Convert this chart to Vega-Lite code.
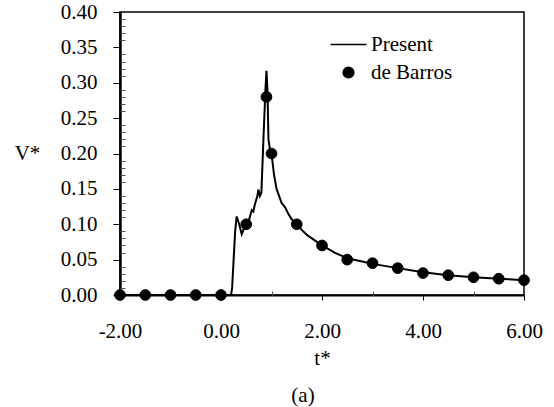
{
  "$schema": "https://vega.github.io/schema/vega-lite/v6.json",
  "width": 404,
  "height": 283,
  "autosize": {"type": "none"},
  "padding": {"left": 120, "top": 12, "right": 30, "bottom": 112},
  "background": "white",
  "config": {
    "font": "Liberation Serif",
    "style": {"guide-label": {"font": "Liberation Serif, serif", "fontSize": 21}, "guide-title": {"font": "Liberation Serif, serif", "fontSize": 21, "fontWeight": "normal"}},
    "view": {"stroke": "black", "strokeWidth": 1.5},
    "axis": {"grid": false, "labelFont": "Liberation Serif, serif", "titleFont": "Liberation Serif, serif", "labelColor": "black", "titleColor": "black", "domainColor": "black", "tickColor": "black", "titleFontWeight": "normal", "labelFlush": false, "labelOverlap": false},
    "legend": {"labelFont": "Liberation Serif", "labelFontSize": 21, "labelColor": "black"}
  },
  "title": {"text": "(a)", "orient": "bottom", "font": "Liberation Serif", "fontSize": 21, "fontWeight": "normal", "color": "black", "offset": 17, "dx": -19},
  "datasets": {
    "present": [
      {"t": -2.0, "v": 0}, {"t": 0.0, "v": 0}, {"t": 0.2, "v": 0}, {"t": 0.22, "v": 0.01},
      {"t": 0.25, "v": 0.05}, {"t": 0.28, "v": 0.09}, {"t": 0.31, "v": 0.111}, {"t": 0.36, "v": 0.1},
      {"t": 0.41, "v": 0.086}, {"t": 0.46, "v": 0.095}, {"t": 0.5, "v": 0.1}, {"t": 0.55, "v": 0.105},
      {"t": 0.61, "v": 0.12}, {"t": 0.64, "v": 0.118}, {"t": 0.67, "v": 0.128}, {"t": 0.72, "v": 0.14},
      {"t": 0.74, "v": 0.149}, {"t": 0.77, "v": 0.14}, {"t": 0.8, "v": 0.145}, {"t": 0.84, "v": 0.22},
      {"t": 0.88, "v": 0.29}, {"t": 0.9, "v": 0.317}, {"t": 0.92, "v": 0.29}, {"t": 0.94, "v": 0.22},
      {"t": 0.97, "v": 0.205}, {"t": 1.0, "v": 0.2}, {"t": 1.05, "v": 0.17}, {"t": 1.1, "v": 0.15},
      {"t": 1.15, "v": 0.14}, {"t": 1.2, "v": 0.13}, {"t": 1.27, "v": 0.124}, {"t": 1.33, "v": 0.115},
      {"t": 1.4, "v": 0.107}, {"t": 1.5, "v": 0.1}, {"t": 1.6, "v": 0.092}, {"t": 1.7, "v": 0.085},
      {"t": 1.8, "v": 0.08}, {"t": 1.9, "v": 0.075}, {"t": 2.0, "v": 0.07}, {"t": 2.25, "v": 0.06},
      {"t": 2.5, "v": 0.052}, {"t": 2.75, "v": 0.048}, {"t": 3.0, "v": 0.044}, {"t": 3.5, "v": 0.038},
      {"t": 4.0, "v": 0.032}, {"t": 4.5, "v": 0.028}, {"t": 5.0, "v": 0.025}, {"t": 5.5, "v": 0.023},
      {"t": 6.0, "v": 0.021}
    ],
    "barros": [
      {"t": -2.0, "v": 0, "series": "de Barros"}, {"t": -1.5, "v": 0, "series": "de Barros"},
      {"t": -1.0, "v": 0, "series": "de Barros"}, {"t": -0.5, "v": 0, "series": "de Barros"},
      {"t": 0.0, "v": 0, "series": "de Barros"}, {"t": 0.5, "v": 0.1, "series": "de Barros"},
      {"t": 0.9, "v": 0.28, "series": "de Barros"}, {"t": 1.0, "v": 0.2, "series": "de Barros"},
      {"t": 1.5, "v": 0.1, "series": "de Barros"}, {"t": 2.0, "v": 0.07, "series": "de Barros"},
      {"t": 2.5, "v": 0.05, "series": "de Barros"}, {"t": 3.0, "v": 0.045, "series": "de Barros"},
      {"t": 3.5, "v": 0.038, "series": "de Barros"}, {"t": 4.0, "v": 0.031, "series": "de Barros"},
      {"t": 4.5, "v": 0.028, "series": "de Barros"}, {"t": 5.0, "v": 0.025, "series": "de Barros"},
      {"t": 5.5, "v": 0.023, "series": "de Barros"}, {"t": 6.0, "v": 0.021, "series": "de Barros"}
    ]
  },
  "resolve": {"axis": {"x": "independent", "y": "independent"}},
  "layer": [
    {
      "data": {"name": "present"},
      "mark": {"type": "line", "color": "black", "strokeWidth": 2, "clip": true},
      "encoding": {
        "x": {"field": "t", "type": "quantitative", "scale": {"domain": [-2, 6], "nice": false},
          "axis": {"values": [-2, 0, 2, 4, 6], "labelExpr": "replace(format(datum.value, '.2f'), '\u2212', '-')", "title": "t*", "labelFont": "Liberation Serif, serif", "titleFont": "Liberation Serif, serif", "labelFontSize": 21, "titleFontSize": 21, "tickSize": 5, "domainWidth": 2, "tickWidth": 1, "labelPadding": 20, "titlePadding": 6, "orient": "bottom"}},
        "y": {"field": "v", "type": "quantitative", "scale": {"domain": [0, 0.4], "nice": false},
          "axis": {"values": [0, 0.05, 0.1, 0.15, 0.2, 0.25, 0.3, 0.35, 0.4], "format": ".2f", "title": "V*", "labelFont": "Liberation Serif, serif", "titleFont": "Liberation Serif, serif", "labelFontSize": 21, "titleFontSize": 21, "titleAngle": 0, "titleX": -93, "titleY": 141, "titleAlign": "center", "titleBaseline": "middle", "tickSize": 7, "domainWidth": 2.5, "tickWidth": 1, "labelPadding": 16, "orient": "left"}}
      }
    },
    {
      "data": {"name": "barros"},
      "mark": {"type": "point", "filled": true, "color": "black", "opacity": 1, "stroke": "black", "strokeWidth": 1},
      "encoding": {
        "x": {"field": "t", "type": "quantitative", "scale": {"domain": [-2, 6], "nice": false},
          "axis": {"values": [-1, 1, 3, 5], "labels": false, "domain": false, "title": null, "tickSize": 4, "tickColor": "#555", "orient": "top", "offset": -283}},
        "y": {"field": "v", "type": "quantitative", "scale": {"domain": [0, 0.4], "nice": false},
          "axis": {"values": [0.01, 0.02, 0.03, 0.04, 0.06, 0.07, 0.08, 0.09, 0.11, 0.12, 0.13, 0.14, 0.16, 0.17, 0.18, 0.19, 0.21, 0.22, 0.23, 0.24, 0.26, 0.27, 0.28, 0.29, 0.31, 0.32, 0.33, 0.34, 0.36, 0.37, 0.38, 0.39], "labels": false, "domain": false, "title": null, "tickSize": 5, "tickColor": "#555", "orient": "right", "offset": -404}},
        "shape": {"field": "series", "type": "nominal", "scale": {"domain": ["Present", "de Barros"], "range": ["M-3,0H3", "circle"]},
          "legend": {"title": null, "orient": "none", "legendX": 218, "legendY": 22, "labelOffset": 12, "rowPadding": 6, "padding": 0,
            "encode": {"symbols": {"update": {"stroke": {"value": "black"}, "strokeWidth": {"value": 2}, "fill": {"value": "black"}, "opacity": {"value": 1}}}}}},
        "size": {"field": "series", "type": "nominal", "scale": {"domain": ["Present", "de Barros"], "range": [144, 115]},
          "legend": {"title": null, "orient": "none", "legendX": 218, "legendY": 22, "labelOffset": 12, "rowPadding": 6, "padding": 0,
            "encode": {"symbols": {"update": {"stroke": {"value": "black"}, "strokeWidth": {"value": 2}, "fill": {"value": "black"}, "opacity": {"value": 1}}}}}}
      }
    }
  ]
}
